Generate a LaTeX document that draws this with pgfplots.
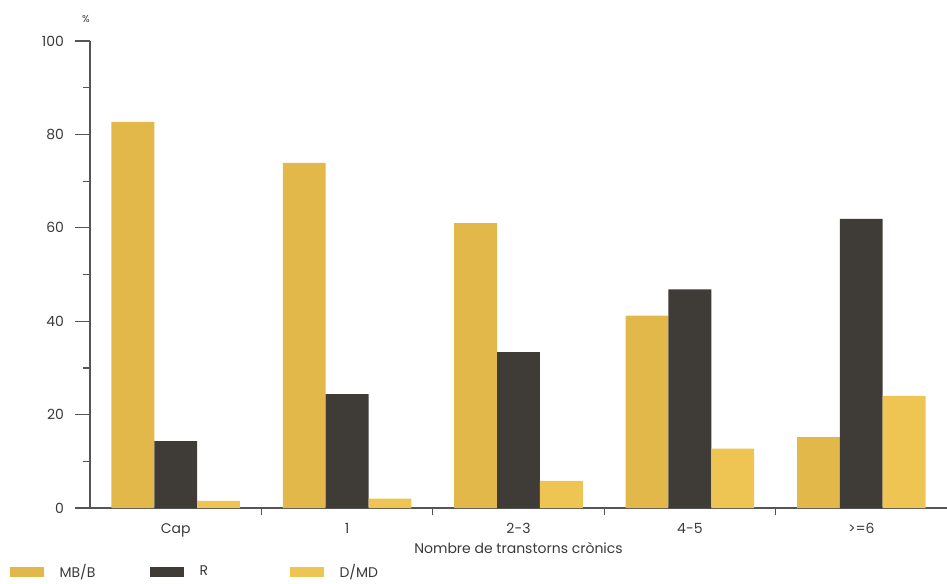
\documentclass[border=0pt]{standalone}
\usepackage{pgfplots}
\pgfplotsset{compat=1.18}
\usepackage{fontspec}
\setmainfont{Poppins}
\definecolor{mbb}{HTML}{E2B84A}
\definecolor{rr}{HTML}{3F3B37}
\definecolor{dmd}{HTML}{EEC553}
\definecolor{axg}{HTML}{555555}
\definecolor{txg}{HTML}{3A3A3A}
\begin{document}
\begin{tikzpicture}
\useasboundingbox (-67.5pt,-56.25pt) rectangle (642.75pt,381pt);
\begin{axis}[
  at={(0,0)}, anchor=south west,
  scale only axis, width=642.75pt, height=350.25pt,
  xmin=-0.5, xmax=4.5, ymin=0, ymax=100,
  axis lines=left, axis line style={axg, line width=0.9pt, -},
  xtick={0,1,2,3,4},
  xticklabels={Cap,1,2-3,4-5,>=6},
  minor xtick={0.5,1.5,2.5,3.5},
  ytick={0,20,40,60,80,100},
  minor ytick={10,30,50,70,90},
  tick align=outside,
  major tick length=11pt, minor tick length=5.5pt,
  tick style={axg, line width=0.9pt},
  major x tick style={draw=none},
  tick label style={font=\fontsize{10.5}{12}\selectfont, text=txg},
  /pgf/number format/assume math mode=true,
  yticklabel style={xshift=-5pt},
  xticklabel style={yshift=3pt},
  xlabel={Nombre de transtorns crònics},
  xlabel style={font=\fontsize{10.5}{12}\selectfont, text=txg, at={(rel axis cs:0.5,0)}, anchor=center, yshift=-30pt},
  ylabel={\%},
  ylabel style={font=\fontsize{7.5}{9}\selectfont, text=txg, rotate=-90, at={(rel axis cs:0,1)}, anchor=south, yshift=10pt, xshift=-3pt},
  bar width=0.25,
  legend columns=3,
  legend style={draw=none, fill=none, at={(-63pt,-48pt)}, anchor=west, font=\fontsize{10.5}{12}\selectfont, text=txg,
    /tikz/every odd column/.append style={column sep=10pt},
    /tikz/every even column/.append style={column sep=0pt}},
  legend image code/.code={\fill[#1] (0pt,-3.4pt) rectangle (25pt,3.4pt);},
]
\addplot[ybar, bar shift=-0.25, fill=mbb, draw=none] coordinates {(0,82.7) (1,73.9) (2,61) (3,41.2) (4,15.2)};
\addplot[ybar, bar shift=0, fill=rr, draw=none] coordinates {(0,14.3) (1,24.4) (2,33.4) (3,46.8) (4,61.9)};
\addplot[ybar, bar shift=0.25, fill=dmd, draw=none] coordinates {(0,1.5) (1,2.0) (2,5.8) (3,12.7) (4,24.0)};
\legend{\makebox[66pt][l]{MB/B},\makebox[66pt][l]{R},D/MD}
\end{axis}
\end{tikzpicture}
\end{document}
